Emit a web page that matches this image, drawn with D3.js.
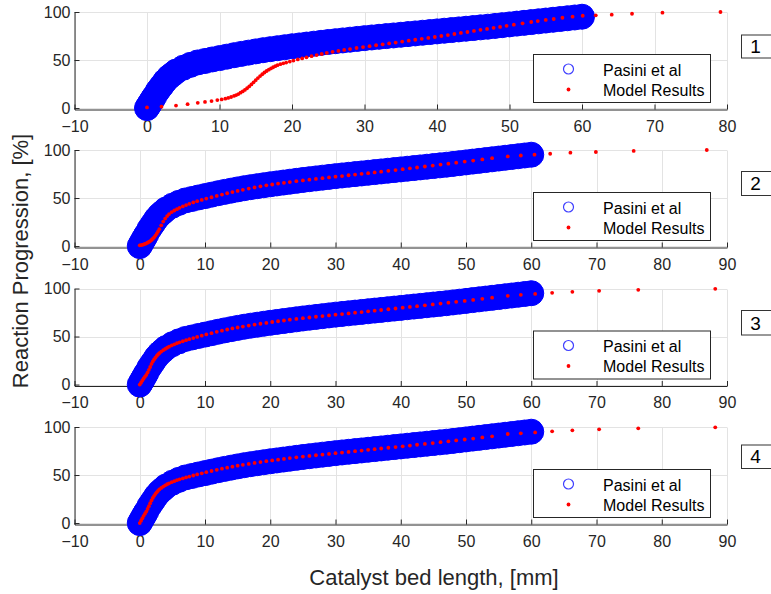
<!DOCTYPE html>
<html><head><meta charset="utf-8">
<script src="https://cdn.jsdelivr.net/npm/d3@7"></script>
<style>body{margin:0;background:#fff}</style>
</head><body><svg id="c" width="771" height="594"></svg>
<script>
// ---- data ----
const panelNames = ["1", "2", "3", "4"];
const xMaxes = [80, 90, 90, 90];
const yTicks = [0, 50, 100];
const xTicks1 = [-10, 0, 10, 20, 30, 40, 50, 60, 70, 80];
const xTicks234 = [-10, 0, 10, 20, 30, 40, 50, 60, 70, 80, 90];
const legendLabels = ["Pasini et al", "Model Results"];
const xLabel = "Catalyst bed length, [mm]";
const yLabel = "Reaction Progression, [%]";

// Pasini et al (experimental) - same in all panels
const pasiniX = [0,0.25,0.5,0.75,1,1.5,2,2.5,3,3.5,4,5,6,7,8,9,10,11,12,13,14,15,16,17,18,19,20,21,22,23,24,25,26,27,28,29,30,31,32,33,34,35,36,37,38,39,40,41,42,43,44,45,46,47,48,49,50,51,52,53,54,55,56,57,58,59,60];
const pasiniY = [0,3,6,9,12,18,23,28,32,35,38,42,45,47.5,49,50.6,52,53.5,55,56.4,57.7,59,60.2,61.3,62.3,63.3,64.3,65.2,66.1,67,67.9,68.8,69.6,70.4,71.2,72,72.8,73.5,74.2,74.9,75.6,76.3,77,77.7,78.4,79.1,79.8,80.5,81.2,81.9,82.6,83.3,84,84.7,85.5,86.3,87.1,87.9,88.7,89.5,90.3,91.1,91.9,92.7,93.5,94.3,95.1];

// Model results, panel 1
const model1X = [0,2,4,5.6,7,8,8.9,9.7,10.3,10.8,11.2,11.6,12,12.3,12.6,12.9,13.2,13.5,13.8,14.1,14.4,14.7,15,15.3,15.6,15.9,16.2,16.5,16.8,17.1,17.4,17.7,18,18.4,18.8,19.2,19.7,20.2,20.8,21.4,22,22.7,23.4,24.1,24.8,25.6,26.4,27.2,28,28.9,29.8,30.7,31.6,32.5,33.4,34.3,35.2,36.1,37,37.9,38.8,39.7,40.6,41.5,42.4,43.3,44.2,45.1,46,46.9,47.8,48.7,49.6,50.6,51.8,53,53.9,55,56.1,57.3,58.7,60.1,61.9,64.1,66.9,71.1,79.1];
const model1Y = [0.7,1.4,2.6,4,5.4,6.4,7.3,8.3,9,9.8,10.6,11.5,12.6,13.5,14.6,16,17.3,18.9,20.6,22.5,24.6,26.8,29,31.2,33.3,35.2,37,38.6,40,41.3,42.5,43.6,44.6,45.7,46.6,47.4,48.4,49.4,50.6,51.7,52.8,54,55.2,56.3,57.4,58.5,59.5,60.5,61.4,62.5,63.5,64.4,65.4,66.3,67.3,68.2,69.2,70.1,71.1,72.1,73,74,75,76,77.1,78.2,79.2,80.3,81.4,82.4,83.5,84.5,85.6,86.8,88.2,89.6,90.6,91.7,92.7,94,95.1,96.1,96.5,97.2,98.2,99.3,100];

// Model results, panels 2-4 (shared x positions up to 54 mm, then own tails)
const modelBaseX = [0,0.2,0.4,0.6,0.8,1,1.2,1.4,1.6,1.8,2,2.2,2.4,2.6,2.8,3,3.3,3.6,3.9,4.2,4.5,4.9,5.3,5.7,6.1,6.6,7.1,7.6,8.2,8.8,9.5,10.2,11,11.8,12.6,13.4,14.2,15,15.8,16.7,17.6,18.5,19.4,20.3,21.2,22.1,23,24,25,26,27,28,29,30,31,32,33,34,35,36,37,38.1,39.2,40.3,41.4,42.5,43.7,44.9,46.1,47.3,48.5,49.8,51.1,52.5,54];
const model2TailX = [56.4,58.4,60.5,62.9,66,69.9,75.7,86.9];
const model34TailX = [56.4,58.4,60.6,63.2,66.3,70.4,76.4,88.2];
const model2Y = [0.8,1,1.3,1.7,2.2,2.8,3.5,4.3,5.2,6.3,7.6,9.1,10.9,12.9,15.1,17.6,21.6,25.5,28.6,31.2,33.3,35.4,37,38.4,39.8,41.3,42.7,44,45.4,46.7,48,49.4,50.8,52.2,53.6,55,56.2,57.4,58.5,59.8,61,62.2,63.2,64.1,65,65.8,66.6,67.5,68.3,69.1,69.9,70.7,71.4,72.2,72.9,73.7,74.4,75.2,75.9,76.7,77.4,78.3,79.1,80,80.9,81.8,82.8,83.8,84.8,85.8,86.8,87.9,89,90.2,91.5,
  93.3,94.3,95.1,96.1,97.2,97.9,99,100];
const model3Y = [0,2,4.2,6.3,8.2,10,12.5,15.3,18.3,21.5,24,26.2,28,29.8,31.3,32.7,34.3,35.8,37.1,38.3,39.4,40.7,41.9,43,44,45.1,46.2,47.2,48.4,49.6,50.9,52.2,53.5,54.9,56.1,57.3,58.4,59.4,60.4,61.4,62.4,63.3,64.2,65.1,65.9,66.7,67.5,68.3,69.1,69.8,70.6,71.3,72,72.7,73.4,74.1,74.8,75.5,76.2,76.9,77.6,78.4,79.2,80,80.8,81.6,82.5,83.4,84.3,85.2,86.1,87.1,88.1,89.2,90.4,
  92.4,93.4,94.4,95.5,96.5,97.6,98.6,99.7];
const model4Y = [0,2.5,5,7.5,9.8,12,14.7,17.6,20.6,23.6,26.2,28.4,30.3,32,33.6,35,36.6,38,39.3,40.4,41.4,42.6,43.6,44.6,45.5,46.5,47.5,48.4,49.5,50.6,51.8,53,54.2,55.4,56.6,57.7,58.7,59.7,60.6,61.6,62.6,63.5,64.4,65.2,66,66.8,67.6,68.4,69.2,69.9,70.6,71.3,72,72.7,73.4,74.1,74.8,75.5,76.2,76.9,77.6,78.4,79.1,79.9,80.7,81.5,82.4,83.3,84.2,85.1,86,87,88,89.1,90.3,
  92.7,93.4,94.4,95.5,96.5,97.6,98.6,99.7];

// ---- build ----
const model2X = modelBaseX.concat(model2TailX);
const model34X = modelBaseX.concat(model34TailX);
const modelXs = [model1X, model2X, model34X, model34X];
const modelYs = [model1Y, model2Y, model3Y, model4Y];
const xTickSets = [xTicks1, xTicks234, xTicks234, xTicks234];

const FONT = "'Liberation Sans', Arial, Helvetica, sans-serif";
const AX = "#262626";
const GRID = "#e3e3e3";
const svg = d3.select("#c").style("font-family", FONT);

const L = 74.5, R = 727;
const panelTop = [12, 150, 288.5, 427];
const labelBox = [[35, 58], [171.5, 195.5], [310.5, 335], [445, 468.5]];

panelNames.forEach((name, i) => {
  const top = panelTop[i];
  const x = d3.scaleLinear().domain([-10, xMaxes[i]]).range([L, R]);
  const y = d3.scaleLinear().domain([-1.5, 100]).range([top + 97.5, top]);
  const g = svg.append("g");

  // grid
  g.append("g").selectAll("line.v").data(xTickSets[i]).join("line")
    .attr("x1", d => Math.round(x(d)) + 0.5).attr("x2", d => Math.round(x(d)) + 0.5)
    .attr("y1", y(-1.5)).attr("y2", Math.round(y(100)) + 0.5)
    .attr("stroke", GRID).attr("stroke-width", 1);
  g.append("g").selectAll("line.h").data(yTicks).join("line")
    .attr("x1", L).attr("x2", R)
    .attr("y1", d => Math.round(y(d)) + 0.5).attr("y2", d => Math.round(y(d)) + 0.5)
    .attr("stroke", GRID).attr("stroke-width", 1);

  // axes
  const xa = g.append("g").attr("transform", `translate(0,${y(-1.5)})`)
    .call(d3.axisBottom(x).tickValues(xTickSets[i]).tickSizeInner(-5).tickSizeOuter(0).tickPadding(11).tickFormat(d3.format("d")));
  const ya = g.append("g").attr("transform", `translate(${L},0)`)
    .call(d3.axisLeft(y).tickValues(yTicks).tickSizeInner(-5).tickSizeOuter(0).tickPadding(4).tickFormat(d3.format("d")));
  [xa, ya].forEach(a => {
    a.select(".domain").attr("stroke", AX);
    a.selectAll(".tick line").attr("stroke", AX);
    a.selectAll(".tick text").attr("fill", AX).style("font-size", "16px").style("font-family", FONT);
  });

  // Pasini data (big blue circles)
  g.append("g").selectAll("circle").data(pasiniX.map((d, k) => [d, pasiniY[k]])).join("circle")
    .attr("cx", d => x(d[0])).attr("cy", d => y(d[1])).attr("r", 12.5)
    .attr("fill", "#0000ff").attr("stroke", "#0000ff").attr("stroke-width", 1);

  // Model results (red dots)
  g.append("g").selectAll("circle").data(modelXs[i].map((d, k) => [d, modelYs[i][k]])).join("circle")
    .attr("cx", d => x(d[0])).attr("cy", d => y(d[1])).attr("r", 1.9)
    .attr("fill", "#ff0000");

  // legend
  const lg = g.append("g").attr("transform", `translate(533.5,${top + 42.5})`);
  lg.append("rect").attr("width", 177).attr("height", 48).attr("fill", "#fff").attr("stroke", AX);
  lg.append("circle").attr("cx", 35).attr("cy", 14.5).attr("r", 5).attr("fill", "none").attr("stroke", "#3f3fff").attr("stroke-width", 1.2);
  lg.append("circle").attr("cx", 35).attr("cy", 35).attr("r", 1.9).attr("fill", "#ff0000");
  lg.selectAll("text").data(legendLabels).join("text")
    .attr("x", 69.5).attr("y", (d, k) => 21 + k * 20)
    .attr("fill", "#000").style("font-size", "16px").text(d => d);

  // panel number box
  const b = labelBox[i];
  g.append("rect").attr("x", 741.5).attr("y", b[0]).attr("width", 40).attr("height", b[1] - b[0])
    .attr("fill", "#fff").attr("stroke", "#333");
  g.append("text").attr("x", 755.5).attr("y", b[1] - 5.5).attr("text-anchor", "middle")
    .attr("fill", "#000").style("font-size", "19px").text(name);
});

svg.append("text").attr("transform", "translate(28,261) rotate(-90)").attr("text-anchor", "middle")
  .attr("fill", AX).style("font-size", "22px").text(yLabel);
svg.append("text").attr("x", 434).attr("y", 585).attr("text-anchor", "middle")
  .attr("fill", AX).style("font-size", "22px").text(xLabel);
</script></body></html>
